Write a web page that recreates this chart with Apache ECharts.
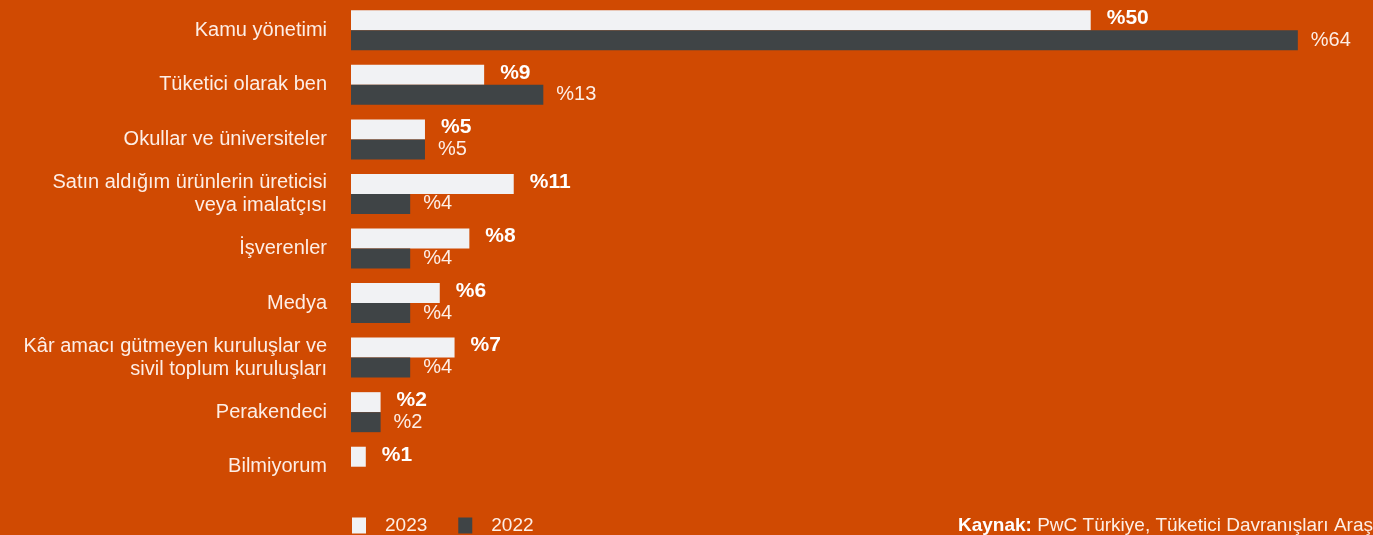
<!DOCTYPE html>
<html>
<head>
<meta charset="utf-8">
<script src="https://cdn.jsdelivr.net/npm/echarts@6/dist/echarts.min.js"></script>
<style>
  html, body { margin: 0; padding: 0; background: #d04a02; }
  #main { width: 1373px; height: 535px; }
</style>
</head>
<body>
<div id="main"></div>
<script>
// kategoriler (yukaridan asagiya)
var categories = [
    'Kamu yönetimi',
    'Tüketici olarak ben',
    'Okullar ve üniversiteler',
    'Satın aldığım ürünlerin üreticisi\nveya imalatçısı',
    'İşverenler',
    'Medya',
    'Kâr amacı gütmeyen kuruluşlar ve\nsivil toplum kuruluşları',
    'Perakendeci',
    'Bilmiyorum'
];
var values2023 = [50, 9, 5, 11, 8, 6, 7, 2, 1];
var values2022 = [64, 13, 5, 4, 4, 4, 4, 2, null];
var seriesNames = ['2023', '2022'];

var textColor = '#fdeee6';
var fontFamily = 'Liberation Sans, Arial, sans-serif';

var myChart = echarts.init(document.getElementById('main'));

var option = {
    backgroundColor: '#d04a02',
    animation: false,
    textStyle: { fontFamily: fontFamily },
    grid: {
        left: 351,
        right: 16,
        top: 3,
        bottom: 41
    },
    legend: {
        data: seriesNames,
        left: 352,
        bottom: 0,
        padding: 0,
        itemWidth: 14,
        itemHeight: 16,
        itemGap: 31,
        icon: 'rect',
        textStyle: { color: textColor, fontSize: 19, fontFamily: fontFamily, padding: [2, 0, 0, 14] }
    },
    xAxis: {
        type: 'value',
        min: 0,
        max: 68,
        show: false
    },
    yAxis: {
        type: 'category',
        data: categories,
        inverse: true,
        axisLine: { show: false },
        axisTick: { show: false },
        splitLine: { show: false },
        axisLabel: {
            color: textColor,
            fontSize: 20,
            margin: 24,
            lineHeight: 23,
            align: 'right',
            fontFamily: fontFamily
        }
    },
    series: [
        {
            name: seriesNames[0],
            type: 'bar',
            data: values2023,
            barWidth: 20,
            barGap: '0%',
            itemStyle: { color: '#f1f2f4' },
            label: {
                show: true,
                position: 'right',
                distance: 16,
                offset: [0, -2],
                color: '#ffffff',
                fontWeight: 'bold',
                fontSize: 21,
                fontFamily: fontFamily,
                formatter: function (p) { return '%' + p.value; }
            }
        },
        {
            name: seriesNames[1],
            type: 'bar',
            data: values2022,
            barWidth: 20,
            barGap: '0%',
            itemStyle: { color: '#3f4446' },
            label: {
                show: true,
                position: 'right',
                distance: 13,
                color: textColor,
                fontSize: 20,
                fontFamily: fontFamily,
                formatter: function (p) { return p.value == null ? '' : '%' + p.value; }
            }
        }
    ],
    graphic: [
        {
            type: 'text',
            left: 958,
            bottom: 0,
            style: {
                text: '{b|Kaynak:} PwC Türkiye, Tüketici Davranışları Araştırması 2023',
                fill: textColor,
                fontSize: 19,
                fontFamily: fontFamily,
                rich: {
                    b: { fontWeight: 'bold', fill: '#ffffff', fontSize: 19, fontFamily: fontFamily }
                }
            }
        }
    ]
};

myChart.setOption(option);
</script>
</body>
</html>
